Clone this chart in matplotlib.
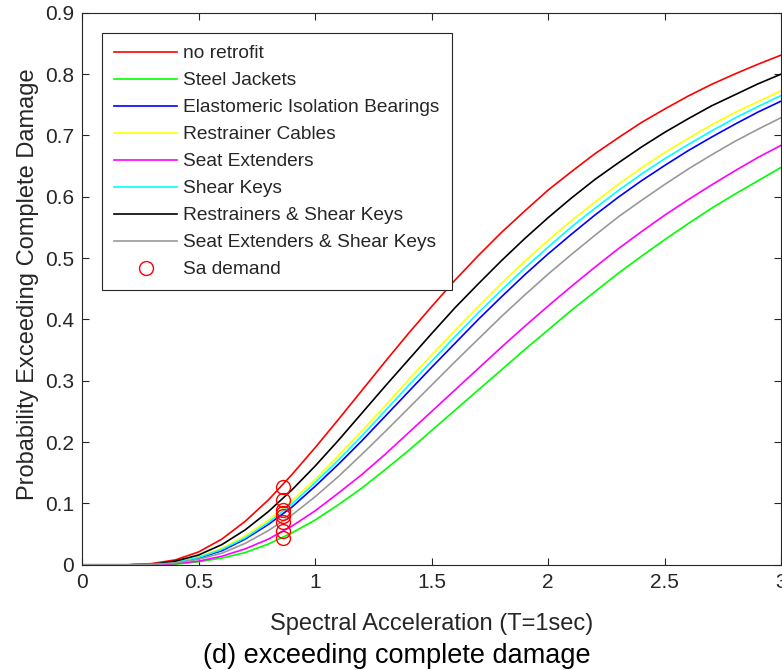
import matplotlib
matplotlib.use("Agg")
import matplotlib.pyplot as plt
from matplotlib.ticker import FuncFormatter

plt.rcParams['font.family'] = ['Liberation Sans', 'DejaVu Sans']

# spectral acceleration grid (g)
sa = [0.0, 0.1, 0.2, 0.3, 0.4, 0.5, 0.6, 0.7, 0.8, 0.9, 1.0,
      1.1, 1.2, 1.3, 1.4, 1.5, 1.6, 1.7, 1.8, 1.9, 2.0,
      2.1, 2.2, 2.3, 2.4, 2.5, 2.6, 2.7, 2.8, 2.9, 3.0]

# probability of exceeding complete damage, one list per retrofit
no_retrofit = [0.000, 0.000, 0.000, 0.002, 0.008, 0.021, 0.042, 0.071, 0.106, 0.147, 0.191,
               0.237, 0.284, 0.331, 0.377, 0.421, 0.464, 0.504, 0.542, 0.577, 0.611,
               0.641, 0.670, 0.696, 0.721, 0.743, 0.764, 0.783, 0.800, 0.816, 0.831]
steel_jackets = [0.000, 0.000, 0.000, 0.000, 0.001, 0.005, 0.011, 0.020, 0.034, 0.052, 0.073,
                 0.098, 0.125, 0.155, 0.186, 0.219, 0.252, 0.285, 0.318, 0.351, 0.383,
                 0.415, 0.445, 0.475, 0.503, 0.530, 0.556, 0.581, 0.604, 0.626, 0.648]
elastomeric = [0.000, 0.000, 0.000, 0.001, 0.004, 0.011, 0.023, 0.042, 0.066, 0.094, 0.128,
               0.164, 0.202, 0.242, 0.282, 0.322, 0.361, 0.400, 0.437, 0.473, 0.507,
               0.539, 0.570, 0.599, 0.626, 0.651, 0.675, 0.697, 0.718, 0.738, 0.756]
restrainer_cables = [0.000, 0.000, 0.000, 0.001, 0.005, 0.013, 0.027, 0.047, 0.073, 0.104, 0.139,
                     0.178, 0.218, 0.259, 0.301, 0.342, 0.382, 0.421, 0.459, 0.495, 0.529,
                     0.561, 0.591, 0.620, 0.647, 0.672, 0.695, 0.717, 0.737, 0.755, 0.773]
seat_extenders = [0.000, 0.000, 0.000, 0.000, 0.002, 0.006, 0.014, 0.026, 0.042, 0.063, 0.088,
                  0.117, 0.147, 0.180, 0.215, 0.250, 0.285, 0.320, 0.355, 0.389, 0.422,
                  0.454, 0.485, 0.515, 0.543, 0.570, 0.595, 0.619, 0.642, 0.664, 0.684]
shear_keys = [0.000, 0.000, 0.000, 0.001, 0.004, 0.012, 0.025, 0.044, 0.069, 0.099, 0.134,
              0.171, 0.210, 0.251, 0.292, 0.332, 0.372, 0.411, 0.448, 0.484, 0.518,
              0.551, 0.581, 0.610, 0.637, 0.662, 0.685, 0.707, 0.728, 0.747, 0.765]
restrainers_shear = [0.000, 0.000, 0.000, 0.001, 0.006, 0.016, 0.033, 0.057, 0.087, 0.122, 0.161,
                     0.203, 0.247, 0.291, 0.334, 0.377, 0.419, 0.458, 0.496, 0.532, 0.566,
                     0.598, 0.628, 0.655, 0.681, 0.705, 0.727, 0.748, 0.766, 0.784, 0.800]
seat_shear = [0.000, 0.000, 0.000, 0.001, 0.003, 0.009, 0.019, 0.035, 0.056, 0.081, 0.111,
              0.144, 0.180, 0.217, 0.255, 0.293, 0.331, 0.368, 0.405, 0.440, 0.474,
              0.506, 0.537, 0.567, 0.594, 0.620, 0.645, 0.668, 0.690, 0.710, 0.729]

# Sa demand markers
sa_demand = [0.86, 0.86, 0.86, 0.86, 0.86, 0.86, 0.86, 0.86]
p_demand = [0.127, 0.043, 0.080, 0.090, 0.055, 0.085, 0.105, 0.069]

curves = [
    ("no retrofit", no_retrofit, "#ff0000"),
    ("Steel Jackets", steel_jackets, "#00ff00"),
    ("Elastomeric Isolation Bearings", elastomeric, "#0000ff"),
    ("Restrainer Cables", restrainer_cables, "#ffff00"),
    ("Seat Extenders", seat_extenders, "#ff00ff"),
    ("Shear Keys", shear_keys, "#00ffff"),
    ("Restrainers & Shear Keys", restrainers_shear, "#000000"),
    ("Seat Extenders & Shear Keys", seat_shear, "#999999"),
]

dark = "#262626"

fig = plt.figure(figsize=(7.82, 6.7), dpi=100)
ax = fig.add_axes([0.105, 0.157, 0.894, 0.824])

for label, vals, col in curves:
    ax.plot(sa, vals, color=col, lw=1.2, label=label)
ax.plot(sa_demand, p_demand, 'o', mfc='none', mec='#ff0000', ms=10, mew=1.0,
        label="Sa demand")

ax.set_xlim(0, 3)
ax.set_ylim(0, 0.9)
ax.set_xticks([0, 0.5, 1, 1.5, 2, 2.5, 3])
ax.set_yticks([0, 0.1, 0.2, 0.3, 0.4, 0.5, 0.6, 0.7, 0.8, 0.9])
fmt = FuncFormatter(lambda v, p: "%g" % round(v, 2))
ax.xaxis.set_major_formatter(fmt)
ax.yaxis.set_major_formatter(fmt)
ax.tick_params(direction='in', top=True, right=True, length=5, width=0.8,
               color=dark, labelcolor=dark, labelsize=15, pad=6)
for s in ax.spines.values():
    s.set_color(dark)
    s.set_linewidth(0.8)

ax.set_xlabel("Spectral Acceleration (T=1sec)", fontsize=17, color=dark)
ax.set_ylabel("Probability Exceeding Complete Damage", fontsize=17, color=dark)
ax.xaxis.set_label_coords(0.5, -0.087)
ax.yaxis.set_label_coords(-0.062, 0.509)

leg = ax.legend(loc='upper left', bbox_to_anchor=(0.0286, 0.963), borderaxespad=0,
                fontsize=13.8, handlelength=3.3, handletextpad=0.32, labelspacing=0.5,
                borderpad=0.62, numpoints=1, fancybox=False, framealpha=1,
                edgecolor=dark)
leg.get_frame().set_linewidth(0.8)
for t in leg.get_texts():
    t.set_color(dark)

fig.text(0.508, 0.021, "(d) exceeding complete damage", ha='center', va='center',
         fontsize=19.5, color='black')

fig.savefig("out.png", dpi=100)
